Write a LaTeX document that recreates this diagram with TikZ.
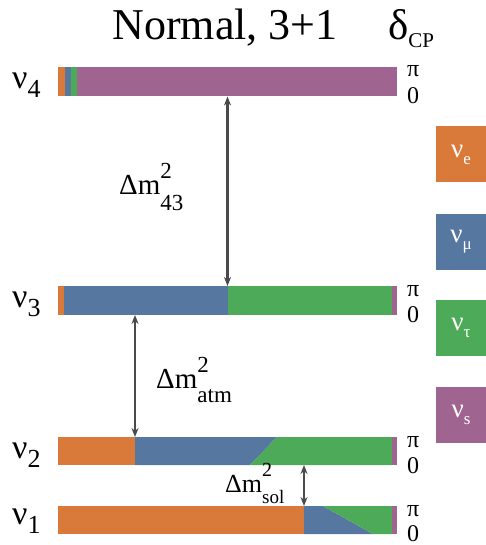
\documentclass[tikz,border=0pt]{standalone}
\usepackage{fontspec}
\setmainfont{Liberation Serif}
\usetikzlibrary{arrows.meta}
\definecolor{cE}{HTML}{D97A3A}
\definecolor{cM}{HTML}{5677A0}
\definecolor{cT}{HTML}{4DAA59}
\definecolor{cS}{HTML}{9F6490}
\definecolor{cA}{HTML}{4A4A4A}
\newcommand{\fs}[1]{\fontsize{#1}{#1}\selectfont}
\newcommand{\nulab}[1]{\fs{34}ν\raisebox{-9pt}{\fs{26}#1}}
\newcommand{\legnu}[1]{\fs{27}ν\raisebox{-7pt}{\fs{17}#1}}
\tikzset{
  gap/.style={{Stealth[length=9pt,width=7pt]}-{Stealth[length=9pt,width=7pt]}, line width=2.3pt, draw=cA},
  lvl/.style={anchor=base west, inner sep=0pt},
  phase/.style={anchor=base west, inner sep=0pt, font=\fs{24}},
  legbox/.style={minimum width=50pt, minimum height=56pt, inner sep=0pt, text=white},
  dmlab/.style={anchor=base west, inner sep=0pt}
}
\begin{document}
\begin{tikzpicture}[x=1pt,y=-1pt]
\useasboundingbox (0,0) rectangle (486,545);
% title
\node[anchor=base, inner sep=0pt] (title) at (225,40) {\fs{44}Normal, 3+1};
\node[anchor=base west, inner sep=0pt] (dcp) at (388,40) {\fs{43}δ\raisebox{-8pt}{\fs{21}CP}};
% bar nu4
\fill[cE] (58,67) rectangle (65,96.5);
\fill[cM] (65,67) rectangle (71,96.5);
\fill[cT] (71,67) rectangle (77,96.5);
\fill[cS] (77,67) rectangle (396.5,96.5);
% bar nu3
\fill[cE] (58,286) rectangle (64,315);
\fill[cM] (64,286) rectangle (227.5,315);
\fill[cT] (227.5,286) rectangle (392,315);
\fill[cS] (392,286) rectangle (396.5,315);
% bar nu2
\fill[cE] (58,437) rectangle (135,465);
\fill[cM] (135,437) -- (277,437) -- (250,465) -- (135,465) -- cycle;
\fill[cT] (277,437) -- (392,437) -- (392,465) -- (250,465) -- cycle;
\fill[cS] (392,437) rectangle (396.5,465);
% bar nu1
\fill[cE] (58,506) rectangle (304,534);
\fill[cM] (304,506) -- (323,506) -- (373,534) -- (304,534) -- cycle;
\fill[cT] (323,506) -- (392,506) -- (392,534) -- (373,534) -- cycle;
\fill[cS] (392,506) rectangle (396.5,534);
% level labels
\node[lvl] (n4) at (12,89) {\nulab{4}};
\node[lvl] (n3) at (12,307) {\nulab{3}};
\node[lvl] (n2) at (12,458) {\nulab{2}};
\node[lvl] (n1) at (12,524) {\nulab{1}};
% phase labels
\node[phase] (p4) at (407,77) {π};
\node[phase] (z4) at (407,104) {0};
\node[phase] (p3) at (407,296) {π};
\node[phase] (z3) at (407,322) {0};
\node[phase] (p2) at (407,447) {π};
\node[phase] (z2) at (407,473) {0};
\node[phase] (p1) at (407,516) {π};
\node[phase] (z1) at (407,541) {0};
% arrows
\coordinate (a43t) at (227.5,96.5);
\coordinate (a43b) at (227.5,286);
\coordinate (aatt) at (135,315);
\coordinate (aatb) at (135,437);
\coordinate (asot) at (304,465);
\coordinate (asob) at (304,506);
\draw[gap] (a43t) -- (a43b);
\draw[gap] (aatt) -- (aatb);
\draw[gap] (asot) -- (asob);
% mass splitting labels
\node[dmlab] (d43) at (119,195) {\fs{29}Δm\rlap{\raisebox{17pt}{\fs{23}2}}\raisebox{-15pt}{\fs{23}43}};
\node[dmlab] (datm) at (156,388) {\fs{29}Δm\rlap{\raisebox{16pt}{\fs{23}2}}\raisebox{-14pt}{\fs{23}atm}};
\node[dmlab] (dsol) at (225,492) {\fs{26}Δm\rlap{\raisebox{16pt}{\fs{20}2}}\raisebox{-11pt}{\fs{19}sol}};
% legend
\node[legbox, fill=cE] (le) at (461,154.5) {\legnu{e}};
\node[legbox, fill=cM] (lm) at (461,242) {\legnu{μ}};
\node[legbox, fill=cT] (lt) at (461,328) {\legnu{τ}};
\node[legbox, fill=cS] (ls) at (461,415) {\legnu{s}};
\end{tikzpicture}
\end{document}
